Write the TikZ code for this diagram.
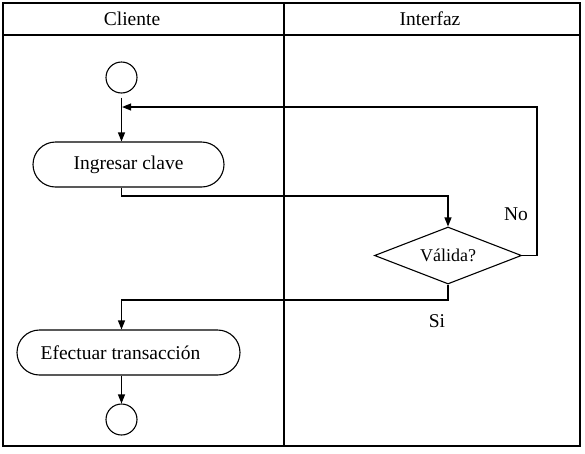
\documentclass[tikz,border=0pt]{standalone}
\usepackage{fontspec}
\setmainfont{Liberation Serif}
\usetikzlibrary{shapes.misc,shapes.geometric,arrows.meta}
\begin{document}
\begin{tikzpicture}[x=1pt,y=-1pt,line width=1.1pt,
  arr/.style={-{Triangle[length=9pt,width=7pt]}},
  act/.style={draw,rounded rectangle,inner sep=0pt,font=\fontsize{19.5}{22}\selectfont},
  ini/.style={draw,circle,minimum size=31pt,inner sep=0pt},
  dec/.style={draw,diamond,aspect=2.58,minimum width=147pt,minimum height=57pt,inner sep=0pt,font=\fontsize{18}{20}\selectfont},
  lbl/.style={font=\fontsize{19.5}{22}\selectfont,inner sep=0pt}]
\useasboundingbox (0,0) rectangle (585,453);
% frame
\draw (3,3) rectangle (580,446);
\draw (3,35) -- (580,35);
\draw (284,3) -- (284,446);
\node[lbl] (hc) at (132,19) {Cliente};
\node[lbl] (hi) at (430,19) {Interfaz};
% nodes
\node[ini] (start) at (121.5,77.5) {};
\node[act,minimum width=191pt,minimum height=45pt] (ing) at (128.5,164.5) {Ingresar clave};
\node[dec] (val) at (448,255.5) {Válida?};
\node[act,minimum width=223pt,minimum height=45pt] (efe) at (128.5,352.5) {Efectuar transacción\hspace*{16pt}};
\node[ini] (fin) at (121.5,419.5) {};
% coordinates
\coordinate (j) at (121.5,107);
\coordinate (lc) at (537,107);
\coordinate (a1) at (121.5,196);
\coordinate (a2) at (121.5,300);
% connectors
\draw[arr,shorten <=4pt] (start.south) -- (start.south |- ing.north);
\draw[arr] (val.east) -| (lc) -- ([xshift=0.6pt]j);
\draw[arr] (ing.south -| a1) -- (a1) -| (val.north);
\draw[arr] (val.south) |- (a2) -- (a2 |- efe.north);
\draw[arr] (efe.south -| fin) -- (fin.north);
% labels
\node[lbl] (no) at (516,214) {No};
\node[lbl] (si) at (437,321) {Si};
\end{tikzpicture}
\end{document}
